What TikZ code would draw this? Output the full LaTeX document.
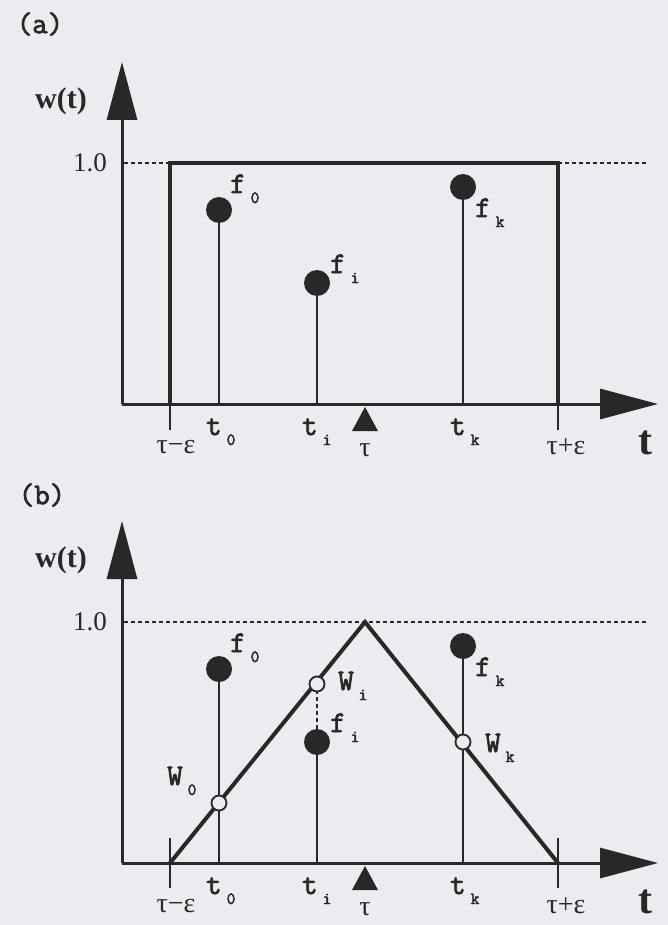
\documentclass[tikz,border=0pt]{standalone}
\usepackage{fontspec}
\setmainfont{Liberation Serif}
\setmonofont{Latin Modern Mono}[AutoFakeBold=2.5]
\usetikzlibrary{arrows.meta, positioning, calc}

\definecolor{paper}{RGB}{235,235,240}
\definecolor{ink}{RGB}{40,40,40}

\newcommand{\fsz}[1]{\fontsize{#1}{#1}\selectfont}
% typewriter subscript, set low and a bit apart
\newcommand{\sub}[1]{\rlap{\kern5pt\raisebox{-10pt}{\fsz{17}#1}}}

\begin{document}
\begin{tikzpicture}[x=1pt, y=-1pt,
  axis/.style={draw=ink, line width=3pt, -{Triangle[length=58pt, width=30pt]}},
  frame/.style={draw=ink, line width=4pt, line join=miter},
  stem/.style={draw=ink, line width=2.6pt},
  guide/.style={draw=ink, line width=2.4pt, dash pattern=on 4pt off 3pt},
  dot/.style={circle, fill=ink, inner sep=0pt, minimum size=26pt},
  wdot/.style={circle, draw=ink, fill=paper, line width=1.8pt, inner sep=0pt, minimum size=15pt},
  tt/.style={anchor=base west, inner sep=0pt, text=ink, font=\ttfamily\bfseries\fsz{30}},
  rm/.style={inner sep=0pt, text=ink, font=\fsz{28}}]
  \fill[paper] (0,0) rectangle (668,925);
  \useasboundingbox (0,0) rectangle (668,925);

  % parts shared by both panels, panel (b) sits 459 lower
  \foreach \p/\dy in {a/0, b/459}{
    \begin{scope}[shift={(0,\dy)}]
      \coordinate (O\p) at (122,404);
      \coordinate (X\p) at (658,404);
      \coordinate (Y\p) at (122,62);
      \draw[axis] (O\p) -- (X\p);
      \draw[axis] (O\p) -- (Y\p);
      \node[rm, font=\bfseries\fsz{30}] (wt\p) at (61,101) {w(t)};
      \node[rm, font=\fsz{27}] (one\p) at (90,163) {1.0};
      \node[rm, font=\bfseries\fsz{42}] (t\p) at (645,443) {t};
      % samples
      \foreach \s/\x/\y in {0/219/210, i/317/283, k/463/187}{
        \coordinate (t\s\p) at (\x,404);
        \node[dot] (f\s\p) at (\x,\y) {};
        \draw[stem] (t\s\p) -- (f\s\p);
      }
      \foreach \s/\x/\y in {0/230/193, i/330/273, k/475/217}
        \node[tt] (lf\s\p) at (\x,\y) {f\sub{\s}};
      \foreach \s/\x in {0/206, i/302, k/450}
        \node[tt] (lt\s\p) at (\x,435) {t\sub{\s}};
      % window centre and edges
      \fill[ink] (365,407) -- (352,431) -- (378,431) -- cycle;
      \node[rm] (tau\p) at (365,450) {τ};
      \node[rm] (lo\p) at (176,447) {τ−ε};
      \node[rm] (hi\p) at (566,447) {τ+ε};
    \end{scope}
  }

  % (a) rectangular window
  \node[tt, anchor=center] (pa) at (40,24) {(a)};
  \coordinate (loa) at (170,404);
  \coordinate (roa) at (558,404);
  \coordinate (lta) at (170,163);
  \coordinate (rta) at (558,163);
  \coordinate (ya) at (124,163);
  \coordinate (ea) at (647,163);
  \draw[frame] (loa) -- (lta) -- (rta) -- (roa);
  \draw[stem] (loa) -- ++(0,26);
  \draw[stem] (roa) -- ++(0,26);
  \draw[guide] (ya) -- (lta);
  \draw[guide] (rta) -- (ea);

  % (b) triangular window
  \node[tt, anchor=center] (pb) at (42,495) {(b)};
  \coordinate (lob) at (170,863);
  \coordinate (rob) at (558,863);
  \coordinate (apex) at (365,622);
  \coordinate (yb) at (124,622);
  \coordinate (eb) at (647,622);
  \draw[guide] (yb) -- (eb);
  \draw[stem] (170,838) -- (170,888);
  \draw[stem] (558,838) -- (558,888);
  \draw[frame] (lob) -- (apex) -- (rob);
  \draw[guide] (fib) -- (317,684);
  \node[wdot] (w0) at (219,803) {};
  \node[wdot] (wi) at (317,684) {};
  \node[wdot] (wk) at (463,742) {};
  \node[tt] (lw0) at (167,785) {W\sub{0}};
  \node[tt] (lwi) at (338,690) {W\sub{i}};
  \node[tt] (lwk) at (485,752) {W\sub{k}};
\end{tikzpicture}
\end{document}
